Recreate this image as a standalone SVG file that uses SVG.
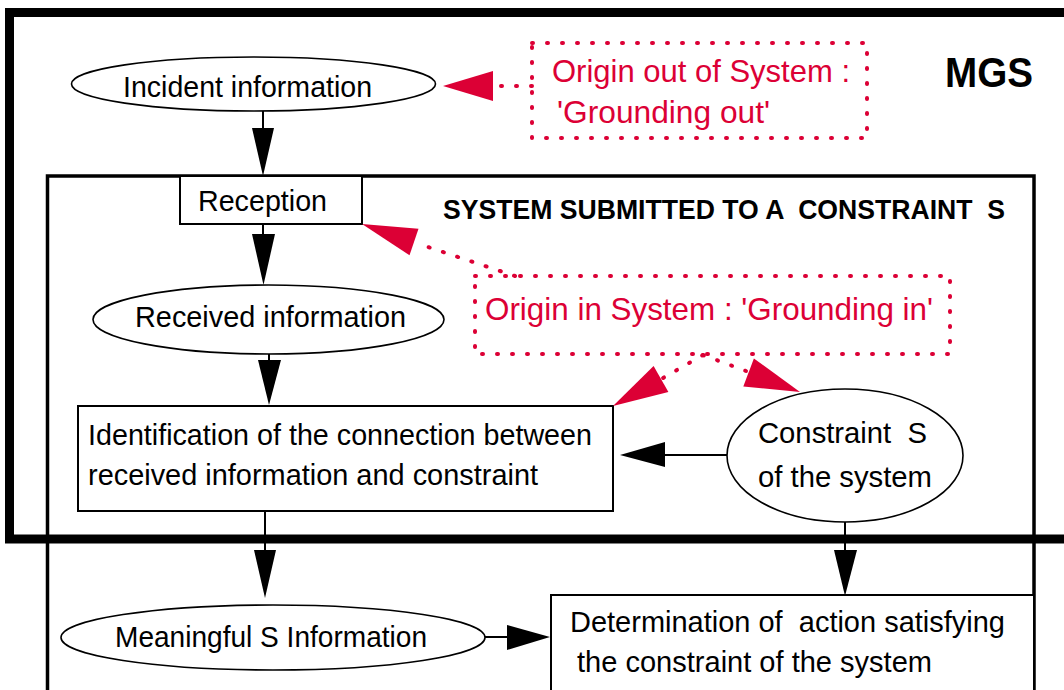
<svg xmlns="http://www.w3.org/2000/svg" width="1064" height="690" viewBox="0 0 1064 690">
<style>
  text { font-family: "Liberation Sans", Arial, sans-serif; fill: #000; white-space: pre; }
  .t { font-size: 30px; }
  .red { fill: #dc0035; font-size: 32px; }
  .bold { font-weight: bold; }
  .box { fill: #fff; stroke: #000; stroke-width: 2; }
  .ell { fill: #fff; stroke: #000; stroke-width: 1.6; }
  .dot { fill: none; stroke: #dc0035; stroke-width: 4; stroke-linecap: round; stroke-dasharray: 1 14; }
  .line { stroke: #000; stroke-width: 2; fill: none; }
  .head { fill: #000; }
  .rhead { fill: #dc0035; }
</style>
<rect x="0" y="0" width="1064" height="690" fill="#fff"/>

<g id="mgs-frame">
  <rect x="9.5" y="12.5" width="1100" height="526.5" fill="none" stroke="#000" stroke-width="9"/>
  <text class="bold" x="945" y="87" font-size="43" textLength="88" lengthAdjust="spacingAndGlyphs">MGS</text>
</g>

<g id="system-frame">
  <rect x="47.5" y="176" width="986.5" height="600" fill="none" stroke="#000" stroke-width="3.5"/>
  <text class="bold" x="443" y="219" font-size="27" textLength="562" lengthAdjust="spacingAndGlyphs" xml:space="preserve">SYSTEM SUBMITTED TO A  CONSTRAINT  S</text>
</g>

<g id="incident">
  <ellipse class="ell" cx="253.5" cy="84" rx="182" ry="27"/>
  <text class="t" x="123" y="97" font-size="31" textLength="249" lengthAdjust="spacingAndGlyphs">Incident information</text>
</g>

<g id="origin-out">
  <rect class="dot" x="532" y="43" width="335" height="95"/>
  <text class="red" x="552" y="82" textLength="298" lengthAdjust="spacingAndGlyphs">Origin out of System :</text>
  <text class="red" x="557" y="123" textLength="213" lengthAdjust="spacingAndGlyphs">'Grounding out'</text>
</g>

<g id="reception">
  <rect class="box" x="180" y="176" width="182" height="48"/>
  <text class="t" x="198" y="211" textLength="129" lengthAdjust="spacingAndGlyphs">Reception</text>
</g>

<g id="received">
  <ellipse class="ell" cx="268.5" cy="319.5" rx="175.5" ry="34.5"/>
  <text class="t" x="135" y="327" font-size="33" textLength="271" lengthAdjust="spacingAndGlyphs">Received information</text>
</g>

<g id="origin-in">
  <rect class="dot" x="475" y="276" width="475" height="78"/>
  <text class="red" x="485" y="320" textLength="448" lengthAdjust="spacingAndGlyphs">Origin in System : 'Grounding in'</text>
</g>

<g id="identification">
  <rect class="box" x="78" y="406" width="535" height="105"/>
  <text class="t" x="88" y="445" textLength="504" lengthAdjust="spacingAndGlyphs">Identification of the connection between</text>
  <text class="t" x="88" y="485" textLength="450" lengthAdjust="spacingAndGlyphs">received information and constraint</text>
</g>

<g id="constraint">
  <ellipse class="ell" cx="845" cy="455.5" rx="118" ry="66.5"/>
  <text class="t" x="758" y="443" font-size="29" textLength="169" lengthAdjust="spacingAndGlyphs" xml:space="preserve">Constraint  S</text>
  <text class="t" x="758" y="487" font-size="29" textLength="174" lengthAdjust="spacingAndGlyphs">of the system</text>
</g>

<g id="meaningful">
  <ellipse class="ell" cx="273" cy="637.5" rx="212" ry="32.5"/>
  <text class="t" x="115" y="647" font-size="29" textLength="312" lengthAdjust="spacingAndGlyphs">Meaningful S Information</text>
</g>

<g id="determination">
  <rect class="box" x="551" y="595" width="483" height="120"/>
  <text class="t" x="570" y="632" font-size="28" textLength="435" lengthAdjust="spacingAndGlyphs" xml:space="preserve">Determination of  action satisfying</text>
  <text class="t" x="577" y="672" font-size="28" textLength="355" lengthAdjust="spacingAndGlyphs">the constraint of the system</text>
</g>

<g id="connectors">
  <!-- black arrows -->
  <line class="line" x1="263" y1="111" x2="263" y2="130"/>
  <polygon class="head" points="252,128 274,128 263,176"/>
  <line class="line" x1="263" y1="224" x2="263" y2="236"/>
  <polygon class="head" points="252,234 275,234 263.5,285"/>
  <line class="line" x1="269" y1="354" x2="269" y2="362"/>
  <polygon class="head" points="258,360 281,360 269,405"/>
  <line class="line" x1="265" y1="511" x2="265" y2="552"/>
  <polygon class="head" points="254,550 276,550 265,598"/>
  <line class="line" x1="845" y1="522" x2="845" y2="552"/>
  <polygon class="head" points="834,550 857,550 845,596"/>
  <line class="line" x1="727" y1="455" x2="663" y2="455"/>
  <polygon class="head" points="665,442 665,467 620,455"/>
  <line class="line" x1="485" y1="637" x2="509" y2="637"/>
  <polygon class="head" points="507,625 507,650 550,637"/>
  <!-- red dotted arrows -->
  <line class="dot" x1="532" y1="86" x2="496" y2="86"/>
  <polygon class="rhead" points="493,71 493,101 443,86"/>
  <line class="dot" x1="515" y1="276" x2="416" y2="243"/>
  <polygon class="rhead" points="418.5,228.7 409.5,255.3 362,224"/>
  <line class="dot" x1="703" y1="355" x2="663" y2="378"/>
  <polygon class="rhead" points="653.6,366 668.4,392 613,406"/>
  <line class="dot" x1="703" y1="355" x2="746" y2="371"/>
  <polygon class="rhead" points="753.9,358.4 743.3,386.4 800,392"/>
</g>
</svg>
